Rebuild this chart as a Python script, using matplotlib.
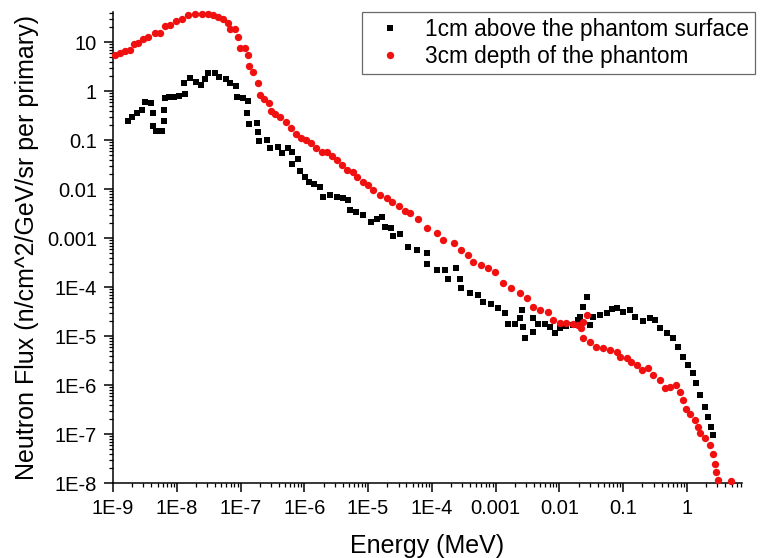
import matplotlib
matplotlib.use("Agg")
import matplotlib.pyplot as plt
from matplotlib.ticker import LogLocator, FixedLocator, FixedFormatter, NullFormatter

plt.rcParams['font.family'] = ['Liberation Sans', 'DejaVu Sans']

# 1cm above the phantom surface (black squares)
e_above = [1.7e-9, 2.0e-9, 2.4e-9, 2.9e-9, 3.2e-9, 3.9e-9, 4.3e-9, 4.2e-9, 4.8e-9, 5.9e-9,
           6.3e-9, 6.3e-9, 6.5e-9, 7.6e-9, 9.1e-9, 1.09e-8, 1.35e-8, 1.31e-8, 1.61e-8, 2.0e-8,
           2.4e-8, 2.8e-8, 3.1e-8, 4.0e-8, 4.6e-8, 5.9e-8, 6.8e-8, 8.5e-8, 8.7e-8, 1.08e-7,
           1.32e-7, 1.27e-7, 1.37e-7, 1.79e-7, 1.89e-7, 1.98e-7, 2.6e-7, 2.9e-7, 3.9e-7, 4.5e-7,
           5.5e-7, 6.3e-7, 6.5e-7, 7.9e-7, 8.7e-7, 1.02e-6, 1.18e-6, 1.44e-6, 1.76e-6, 1.96e-6,
           2.5e-6, 3.2e-6, 4.0e-6, 4.9e-6, 5.2e-6, 6.4e-6, 8.4e-6, 1.1e-5, 1.37e-5, 1.67e-5,
           1.83e-5, 2.3e-5, 2.5e-5, 3.2e-5, 4.2e-5, 5.8e-5, 8.3e-5, 8.3e-5, 1.19e-4, 1.6e-4,
           2.4e-4, 1.8e-4, 2.8e-4, 2.9e-4, 3.9e-4, 5.3e-4, 6.4e-4, 8.6e-4, 1.09e-3, 1.39e-3,
           1.57e-3, 2.0e-3, 2.4e-3, 2.55e-3, 2.7e-3, 2.9e-3, 3.9e-3, 3.9e-3, 4.6e-3, 5.9e-3,
           7.1e-3, 8.5e-3, 1.01e-2, 1.29e-2, 1.64e-2, 1.96e-2, 2.1e-2, 2.35e-2, 2.7e-2, 3.0e-2,
           3.4e-2, 4.3e-2, 5.5e-2, 6.6e-2, 7.9e-2, 0.10, 0.127, 0.152, 0.205, 0.26,
           0.31, 0.375, 0.48, 0.6, 0.73, 0.87, 1.04, 1.25, 1.41, 1.58,
           1.9, 2.14, 2.42, 2.57]
f_above = [0.24, 0.29, 0.35, 0.41, 0.59, 0.56, 0.35, 0.19, 0.15, 0.15,
           0.24, 0.42, 0.71, 0.74, 0.77, 0.80, 0.86, 1.48, 1.82, 1.55,
           1.33, 1.76, 2.3, 2.3, 1.9, 1.76, 1.44, 1.28, 0.77, 0.71,
           0.63, 0.35, 0.21, 0.225, 0.148, 0.095, 0.1, 0.069, 0.073, 0.055,
           0.069, 0.058, 0.032, 0.042, 0.0235, 0.0173, 0.0141, 0.0126, 0.011, 0.007,
           0.0075, 0.0068, 0.0065, 0.006, 0.0037, 0.0034, 0.003, 0.00215, 0.0025, 0.0027,
           0.0017, 0.0016, 0.0011, 0.0012, 6.6e-4, 5.7e-4, 4.9e-4, 3.0e-4, 2.2e-4, 2.2e-4,
           2.4e-4, 1.46e-4, 1.44e-4, 9.4e-5, 7.4e-5, 6.9e-5, 5.0e-5, 4.6e-5, 3.7e-5, 2.9e-5,
           1.8e-5, 1.8e-5, 2.3e-5, 3.4e-5, 1.55e-5, 9.0e-6, 2.3e-5, 1.22e-5, 1.8e-5, 1.8e-5,
           1.55e-5, 1.13e-5, 1.44e-5, 1.6e-5, 1.67e-5, 2.1e-5, 2.5e-5, 4.0e-5, 6.3e-5, 1.68e-5,
           2.4e-5, 2.7e-5, 2.9e-5, 3.5e-5, 3.7e-5, 3.1e-5, 3.4e-5, 2.5e-5, 2.05e-5, 2.3e-5,
           2.1e-5, 1.44e-5, 1.13e-5, 9.0e-6, 6.0e-6, 3.8e-6, 2.6e-6, 1.73e-6, 1.08e-6, 6.3e-7,
           3.6e-7, 2.25e-7, 1.41e-7, 9.5e-8]

# 3cm depth of the phantom (red circles)
e_depth = [1.07e-9, 1.29e-9, 1.54e-9, 1.85e-9, 2.1e-9, 2.5e-9, 3.0e-9, 3.6e-9, 4.5e-9, 5.5e-9,
           6.5e-9, 7.8e-9, 9.7e-9, 1.19e-8, 1.51e-8, 1.93e-8, 2.45e-8, 3.1e-8, 3.7e-8, 4.5e-8,
           5.4e-8, 6.4e-8, 6.8e-8, 8.2e-8, 9.2e-8, 9.8e-8, 1.17e-7, 1.32e-7, 1.37e-7, 1.55e-7,
           1.89e-7, 2.0e-7, 2.3e-7, 2.8e-7, 3.0e-7, 3.5e-7, 4.2e-7, 5.2e-7, 6.2e-7, 7.4e-7,
           8.9e-7, 1.08e-6, 1.29e-6, 1.55e-6, 1.89e-6, 2.3e-6, 2.7e-6, 3.2e-6, 3.9e-6, 4.7e-6,
           5.8e-6, 6.8e-6, 8.4e-6, 1.0e-5, 1.2e-5, 1.53e-5, 1.95e-5, 2.4e-5, 3.1e-5, 3.8e-5,
           4.5e-5, 6.1e-5, 8.3e-5, 1.19e-4, 1.5e-4, 2.2e-4, 2.9e-4, 3.7e-4, 4.4e-4, 6.0e-4,
           7.6e-4, 9.7e-4, 1.31e-3, 1.77e-3, 2.4e-3, 3.05e-3, 3.9e-3, 4.9e-3, 6.7e-3, 8.0e-3,
           1.01e-2, 1.29e-2, 1.64e-2, 1.96e-2, 2.2e-2, 2.35e-2, 2.7e-2, 2.35e-2, 3.0e-2, 3.8e-2,
           4.8e-2, 6.2e-2, 7.9e-2, 8.9e-2, 0.113, 0.135, 0.162, 0.194, 0.245, 0.29,
           0.375, 0.45, 0.54, 0.68, 0.77, 0.87, 0.98, 1.11, 1.32, 1.49,
           1.58, 1.9, 2.28, 2.57, 2.73, 2.9, 3.07, 4.97]
f_depth = [5.4, 6.0, 6.5, 6.9, 9.1, 9.4, 11.4, 12.5, 15.0, 15.5,
           21.0, 22.0, 27.0, 30.0, 35.6, 36.7, 36.7, 36.7, 35.6, 31.9,
           29.0, 24.0, 18.2, 18.2, 12.8, 7.6, 7.4, 5.4, 3.2, 2.4,
           1.44, 0.83, 0.69, 0.58, 0.39, 0.34, 0.30, 0.23, 0.176, 0.136,
           0.112, 0.1, 0.087, 0.069, 0.058, 0.057, 0.048, 0.039, 0.031, 0.0244,
           0.0222, 0.0176, 0.0141, 0.0121, 0.0095, 0.0075, 0.0065, 0.0055, 0.0045, 0.0036,
           0.0032, 0.0025, 0.0016, 0.00125, 9.1e-4, 7.8e-4, 5.7e-4, 4.5e-4, 3.3e-4, 2.8e-4,
           2.4e-4, 2.05e-4, 1.19e-4, 9.4e-5, 7.4e-5, 5.9e-5, 4.0e-5, 3.4e-5, 3.1e-5, 2.1e-5,
           1.87e-5, 1.82e-5, 1.76e-5, 1.68e-5, 1.44e-5, 1.96e-5, 2.7e-5, 9.0e-6, 7.7e-6, 6.1e-6,
           5.6e-6, 5.2e-6, 4.8e-6, 3.8e-6, 3.5e-6, 3.0e-6, 2.6e-6, 2.0e-6, 2.2e-6, 1.6e-6,
           1.26e-6, 8.6e-7, 9.2e-7, 1.0e-6, 7.3e-7, 4.9e-7, 3.3e-7, 2.6e-7, 1.93e-7, 1.41e-7,
           1.03e-7, 8.2e-8, 6.0e-8, 4.0e-8, 2.5e-8, 1.7e-8, 1.15e-8, 1.1e-8]

x_ticks = [1e-9, 1e-8, 1e-7, 1e-6, 1e-5, 1e-4, 1e-3, 1e-2, 1e-1, 1]
x_labels = ['1E-9', '1E-8', '1E-7', '1E-6', '1E-5', '1E-4', '0.001', '0.01', '0.1', '1']
y_ticks = [1e-8, 1e-7, 1e-6, 1e-5, 1e-4, 1e-3, 1e-2, 1e-1, 1, 10]
y_labels = ['1E-8', '1E-7', '1E-6', '1E-5', '1E-4', '0.001', '0.01', '0.1', '1', '10']

fig = plt.figure(figsize=(7.64, 5.58), dpi=100)
ax = fig.add_axes([0.1479, 0.1344, 0.8233, 0.844])

ax.plot(e_above, f_above, linestyle='none', marker='s', markersize=4.2,
        color='black', markeredgewidth=0, label='1cm above the phantom surface',
        clip_on=False, zorder=3)
ax.plot(e_depth, f_depth, linestyle='none', marker='o', markersize=5.3,
        color='#f01010', markeredgewidth=0, label='3cm depth of the phantom',
        clip_on=False, zorder=4)

ax.set_xscale('log')
ax.set_yscale('log')
ax.set_xlim(1e-9, 7.3)
ax.set_ylim(1e-8, 41)

ax.xaxis.set_major_locator(FixedLocator(x_ticks))
ax.xaxis.set_major_formatter(FixedFormatter(x_labels))
ax.yaxis.set_major_locator(FixedLocator(y_ticks))
ax.yaxis.set_major_formatter(FixedFormatter(y_labels))
ax.xaxis.set_minor_locator(LogLocator(base=10, subs=range(2, 10), numticks=30))
ax.yaxis.set_minor_locator(LogLocator(base=10, subs=range(2, 10), numticks=30))
ax.xaxis.set_minor_formatter(NullFormatter())
ax.yaxis.set_minor_formatter(NullFormatter())

for s in ['top', 'right']:
    ax.spines[s].set_visible(False)
for s in ['left', 'bottom']:
    ax.spines[s].set_linewidth(1.1)

ax.tick_params(which='major', direction='out', length=6.5, width=1.1, labelsize=14.5, pad=5)
ax.tick_params(which='minor', direction='out', length=3.2, width=0.9)

ax.set_xlabel('Energy (MeV)', fontsize=18)
ax.set_ylabel('Neutron Flux (n/cm^2/GeV/sr per primary)', fontsize=18)
ax.xaxis.set_label_coords(0.5, -0.108)
ax.yaxis.set_label_coords(-0.117, 0.5)

leg = fig.legend(loc='upper left', bbox_to_anchor=(362 / 764, 1 - 12 / 558),
                 fontsize=16.3, frameon=True, fancybox=False, handlelength=2.0,
                 handletextpad=0.55, borderpad=0.25, labelspacing=0.2, borderaxespad=0)
leg.get_frame().set_edgecolor('#444444')
leg.get_frame().set_linewidth(0.9)

fig.savefig('out.png', dpi=100)
